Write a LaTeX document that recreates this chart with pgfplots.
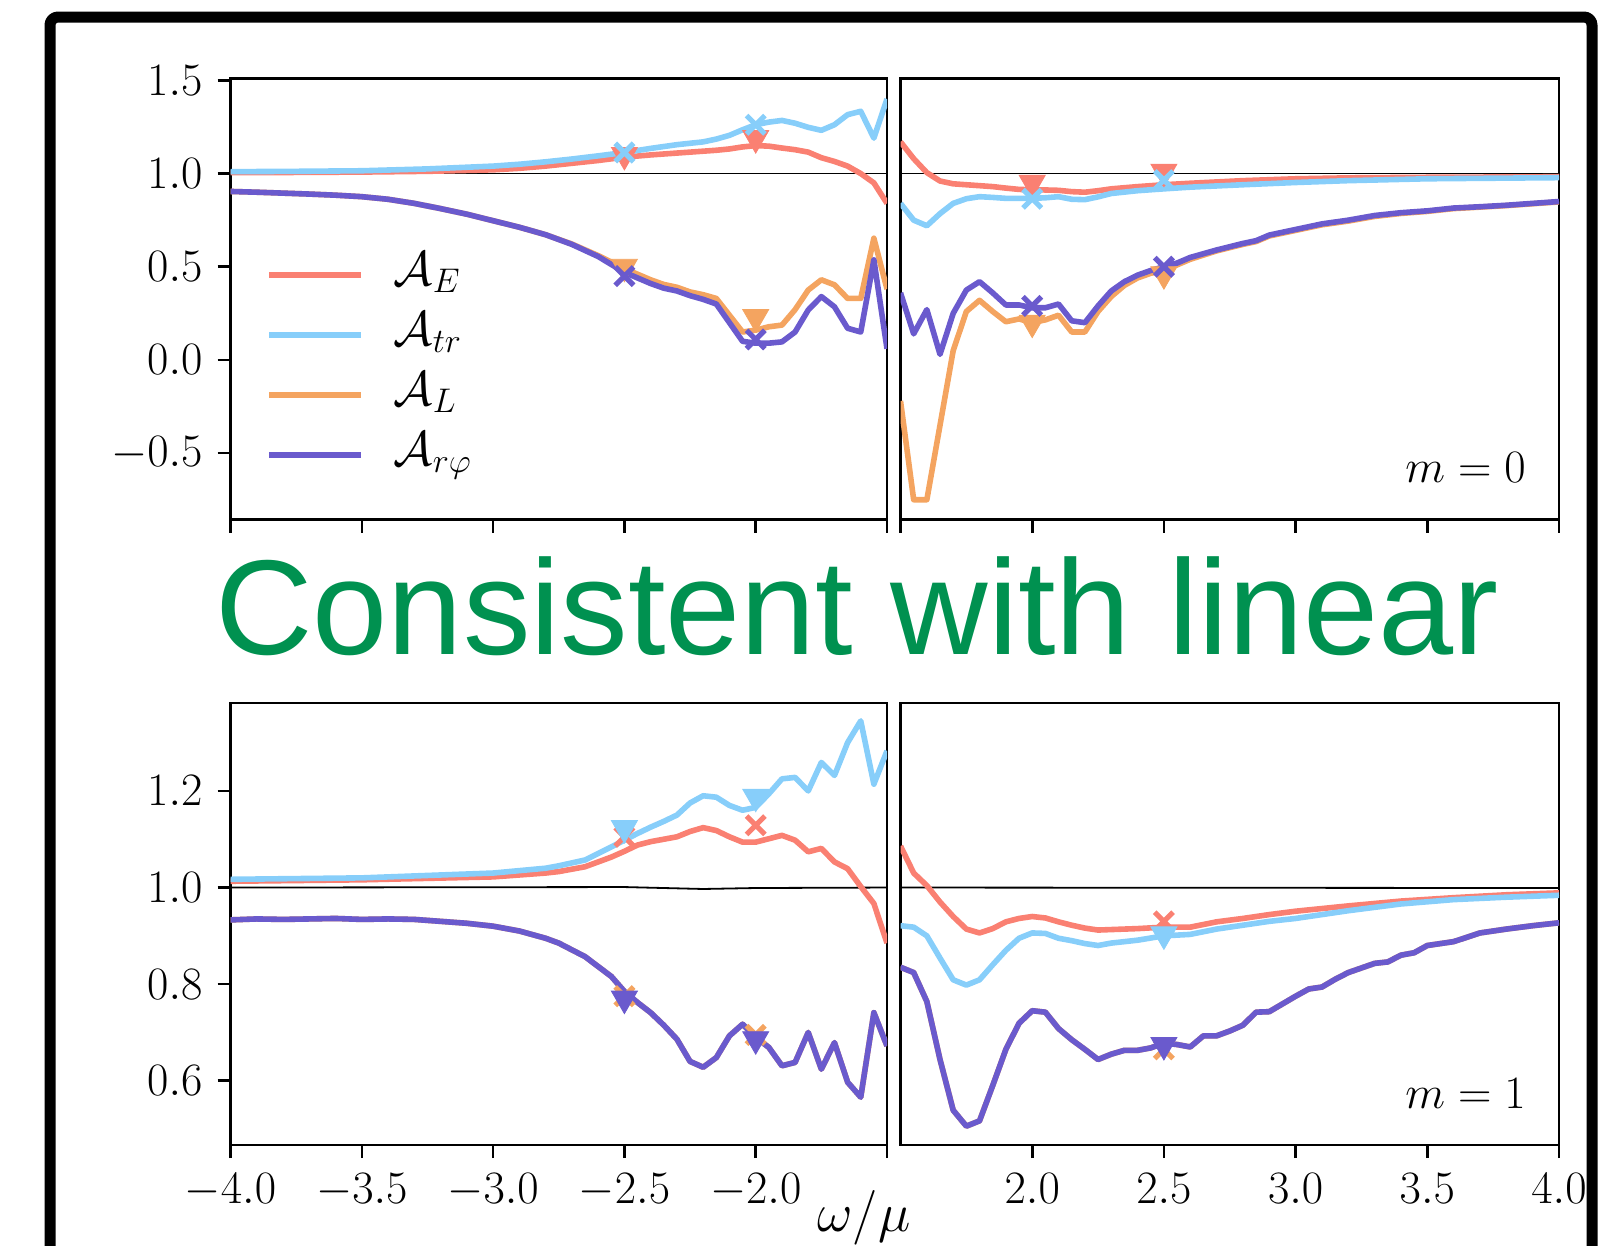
\RequirePackage{fix-cm}
\documentclass[border=0pt]{standalone}
\usepackage{pgfplots}
\pgfplotsset{compat=1.18}
\usepackage{fontspec}
\newfontfamily\slidefont{Liberation Sans}
\definecolor{cE}{RGB}{250,128,114}
\definecolor{cT}{RGB}{135,206,250}
\definecolor{cL}{RGB}{244,164,96}
\definecolor{cR}{RGB}{106,90,205}
\definecolor{cG}{RGB}{0,145,80}
\pgfplotsset{
  panel/.style={
    scale only axis,
    axis line style={line width=1.4bp},
    tick style={line width=1.3bp, black},
    major tick length=6.5bp,
    tick align=outside,
    xtick pos=left, ytick pos=left,
    ticklabel style={font=\fontsize{23.3pt}{26pt}\selectfont},
    yticklabel style={xshift=-4bp},
    xticklabel style={yshift=-4.5bp},
    clip=true,
  },
  ln/.style={line width=2.8bp, no marks, line join=round},
  mx/.style={only marks, mark=x, mark size=6.5bp, mark options={line width=2.6bp, solid}, forget plot},
  mv/.style={only marks, mark=triangle*, mark size=7.5bp, mark options={rotate=180, solid}, forget plot},
  refl/.style={black, line width=0.9bp, no marks, forget plot},
}
\begin{document}
\begin{tikzpicture}
\useasboundingbox (0bp,0bp) rectangle (801.5bp,-623bp);
% ---------- top left (m = 0) ----------
\begin{axis}[panel, at={(115.25bp,-39.25bp)}, anchor=north west,
  width=328.25bp, height=220.5bp,
  xmin=-4, xmax=-1.5, ymin=-0.856, ymax=1.51,
  xtick={-4,-3.5,-3,-2.5,-2,-1.5}, xticklabels={},
  ytick={-0.5,0,0.5,1,1.5}, yticklabels={$-0.5$,$0.0$,$0.5$,$1.0$,$1.5$},
  legend style={at={(axis description cs:0.054,0.60)}, anchor=north west, draw=none, fill=none,
    inner sep=0pt, row sep=10bp, column sep=15bp,
    nodes={inner sep=0pt, text height=15bp, text depth=5bp},
    font=\fontsize{24.5pt}{27pt}\selectfont},
  legend cell align=left,
  legend image code/.code={\draw[#1] (0bp,0bp) -- (46bp,0bp);},
]
\addplot[refl] coordinates {(-4,1) (-1.5,1)};
\addplot[ln, cE] coordinates {(-4.0,1.005) (-3.75,1.006) (-3.5,1.008) (-3.25,1.012) (-3.0,1.02) (-2.9,1.028) (-2.8,1.04) (-2.7,1.055) (-2.6,1.07) (-2.5,1.088) (-2.4,1.10) (-2.3,1.11) (-2.2,1.12) (-2.15,1.125) (-2.1,1.132) (-2.05,1.143) (-2.0,1.15) (-1.95,1.147) (-1.9,1.137) (-1.85,1.128) (-1.8,1.115) (-1.75,1.085) (-1.7,1.065) (-1.65,1.04) (-1.6,1.0) (-1.55,0.95) (-1.5,0.84)};
\addlegendentry{$\mathcal{A}_E$}
\addplot[ln, cT] coordinates {(-4.0,1.01) (-3.75,1.012) (-3.5,1.015) (-3.25,1.025) (-3.0,1.04) (-2.9,1.05) (-2.8,1.063) (-2.7,1.078) (-2.6,1.095) (-2.5,1.113) (-2.4,1.135) (-2.3,1.155) (-2.2,1.17) (-2.15,1.185) (-2.1,1.205) (-2.05,1.235) (-2.0,1.262) (-1.95,1.276) (-1.9,1.285) (-1.85,1.27) (-1.8,1.248) (-1.75,1.232) (-1.7,1.262) (-1.65,1.316) (-1.6,1.334) (-1.55,1.19) (-1.5,1.40)};
\addlegendentry{$\mathcal{A}_{tr}$}
\addplot[ln, cL] coordinates {(-4.0,0.904) (-3.9,0.9) (-3.8,0.895) (-3.7,0.89) (-3.6,0.884) (-3.5,0.876) (-3.4,0.862) (-3.3,0.84) (-3.2,0.812) (-3.1,0.782) (-3.0,0.747) (-2.9,0.712) (-2.8,0.672) (-2.7,0.622) (-2.6,0.56) (-2.5,0.49) (-2.45,0.46) (-2.4,0.43) (-2.35,0.405) (-2.3,0.39) (-2.25,0.365) (-2.2,0.35) (-2.15,0.33) (-2.1,0.24) (-2.05,0.15) (-2.0,0.16) (-1.95,0.178) (-1.9,0.187) (-1.85,0.27) (-1.8,0.375) (-1.75,0.43) (-1.7,0.403) (-1.65,0.33) (-1.6,0.33) (-1.55,0.653) (-1.5,0.38)};
\addlegendentry{$\mathcal{A}_L$}
\addplot[ln, cR] coordinates {(-4.0,0.904) (-3.9,0.9) (-3.8,0.895) (-3.7,0.89) (-3.6,0.884) (-3.5,0.876) (-3.4,0.862) (-3.3,0.84) (-3.2,0.812) (-3.1,0.782) (-3.0,0.747) (-2.9,0.712) (-2.8,0.672) (-2.7,0.62) (-2.6,0.555) (-2.5,0.47) (-2.45,0.44) (-2.4,0.41) (-2.35,0.385) (-2.3,0.37) (-2.25,0.345) (-2.2,0.325) (-2.15,0.30) (-2.1,0.20) (-2.05,0.10) (-2.0,0.09) (-1.95,0.09) (-1.9,0.097) (-1.85,0.15) (-1.8,0.268) (-1.75,0.34) (-1.7,0.285) (-1.65,0.17) (-1.6,0.15) (-1.55,0.537) (-1.5,0.06)};
\addlegendentry{$\mathcal{A}_{r\varphi}$}
\addplot[mv, cE] coordinates {(-2.5,1.10) (-2.0,1.19)};
\addplot[mx, cT] coordinates {(-2.5,1.113) (-2.0,1.262)};
\addplot[mv, cL] coordinates {(-2.5,0.50) (-2.0,0.23)};
\addplot[mx, cR] coordinates {(-2.5,0.45) (-2.0,0.11)};
\end{axis}
% ---------- top right (m = 0) ----------
\begin{axis}[panel, at={(450.25bp,-39.25bp)}, anchor=north west,
  width=329.25bp, height=220.5bp,
  xmin=1.5, xmax=4, ymin=-0.856, ymax=1.51,
  xtick={1.5,2,2.5,3,3.5,4}, xticklabels={},
  ytick=\empty,
]
\addplot[refl] coordinates {(1.5,1) (4,1)};
\addplot[ln, cE] coordinates {(1.5,1.17) (1.55,1.08) (1.6,1.005) (1.65,0.96) (1.7,0.945) (1.75,0.94) (1.8,0.935) (1.85,0.93) (1.9,0.922) (1.95,0.915) (2.0,0.913) (2.05,0.912) (2.1,0.91) (2.15,0.903) (2.2,0.90) (2.25,0.908) (2.3,0.918) (2.4,0.93) (2.5,0.94) (2.6,0.948) (2.8,0.962) (3.0,0.972) (3.2,0.977) (3.5,0.98) (4.0,0.983)};
\addplot[ln, cT] coordinates {(1.5,0.84) (1.55,0.75) (1.6,0.72) (1.65,0.785) (1.7,0.84) (1.75,0.865) (1.8,0.876) (1.85,0.872) (1.9,0.867) (1.95,0.867) (2.0,0.867) (2.05,0.87) (2.1,0.876) (2.15,0.862) (2.2,0.86) (2.25,0.875) (2.3,0.893) (2.4,0.908) (2.5,0.918) (2.6,0.927) (2.8,0.94) (3.0,0.952) (3.2,0.962) (3.5,0.972) (4.0,0.978)};
\addplot[ln, cL] coordinates {(1.5,-0.22) (1.55,-0.75) (1.6,-0.75) (1.65,-0.35) (1.7,0.05) (1.75,0.26) (1.8,0.32) (1.85,0.26) (1.9,0.205) (1.95,0.22) (2.0,0.20) (2.05,0.215) (2.1,0.24) (2.15,0.15) (2.2,0.15) (2.25,0.26) (2.3,0.34) (2.35,0.40) (2.4,0.44) (2.45,0.465) (2.5,0.48) (2.55,0.51) (2.6,0.54) (2.7,0.585) (2.8,0.62) (2.85,0.635) (2.9,0.665) (3.0,0.695) (3.1,0.725) (3.2,0.745) (3.3,0.77) (3.4,0.786) (3.5,0.797) (3.6,0.812) (3.7,0.82) (3.8,0.828) (3.9,0.838) (4.0,0.848)};
\addplot[ln, cR] coordinates {(1.5,0.36) (1.55,0.14) (1.6,0.27) (1.65,0.03) (1.7,0.25) (1.75,0.375) (1.8,0.42) (1.85,0.36) (1.9,0.295) (1.95,0.295) (2.0,0.28) (2.05,0.28) (2.1,0.30) (2.15,0.21) (2.2,0.20) (2.25,0.29) (2.3,0.37) (2.35,0.42) (2.4,0.455) (2.45,0.48) (2.5,0.50) (2.55,0.52) (2.6,0.55) (2.7,0.59) (2.8,0.625) (2.85,0.64) (2.9,0.67) (3.0,0.70) (3.1,0.73) (3.2,0.75) (3.3,0.775) (3.4,0.79) (3.5,0.80) (3.6,0.815) (3.7,0.822) (3.8,0.83) (3.9,0.84) (4.0,0.85)};
\addplot[mv, cE] coordinates {(2.0,0.95) (2.5,1.01)};
\addplot[mx, cT] coordinates {(2.0,0.865) (2.5,0.965)};
\addplot[mv, cL] coordinates {(2.0,0.20) (2.5,0.46)};
\addplot[mx, cR] coordinates {(2.0,0.29) (2.5,0.50)};
\end{axis}
% ---------- bottom left (m = 1) ----------
\begin{axis}[panel, at={(115.25bp,-351.5bp)}, anchor=north west,
  width=328.25bp, height=221bp,
  xmin=-4, xmax=-1.5, ymin=0.467, ymax=1.382,
  xtick={-4,-3.5,-3,-2.5,-2,-1.5}, xticklabels={$-4.0$,$-3.5$,$-3.0$,$-2.5$,$-2.0$,{}},
  ytick={0.6,0.8,1.0,1.2}, yticklabels={$0.6$,$0.8$,$1.0$,$1.2$},
]
\addplot[refl] coordinates {(-4,1) (-2.5,1.001) (-2.2,0.997) (-2.0,0.999) (-1.5,1)};
\addplot[ln, cE] coordinates {(-4.0,1.013) (-3.5,1.016) (-3.0,1.022) (-2.9,1.026) (-2.8,1.03) (-2.75,1.033) (-2.65,1.043) (-2.55,1.063) (-2.5,1.075) (-2.45,1.088) (-2.4,1.095) (-2.35,1.1) (-2.3,1.105) (-2.25,1.116) (-2.2,1.124) (-2.15,1.118) (-2.1,1.105) (-2.05,1.094) (-2.0,1.094) (-1.95,1.101) (-1.9,1.108) (-1.85,1.098) (-1.8,1.074) (-1.75,1.081) (-1.7,1.053) (-1.65,1.039) (-1.6,1.002) (-1.55,0.967) (-1.5,0.885)};
\addplot[ln, cT] coordinates {(-4.0,1.017) (-3.5,1.02) (-3.0,1.03) (-2.9,1.035) (-2.8,1.04) (-2.75,1.045) (-2.65,1.057) (-2.55,1.084) (-2.5,1.098) (-2.45,1.112) (-2.4,1.125) (-2.35,1.137) (-2.3,1.15) (-2.25,1.175) (-2.2,1.19) (-2.15,1.187) (-2.1,1.17) (-2.05,1.16) (-2.0,1.166) (-1.95,1.194) (-1.9,1.225) (-1.85,1.228) (-1.8,1.20) (-1.75,1.259) (-1.7,1.232) (-1.65,1.30) (-1.6,1.345) (-1.55,1.214) (-1.5,1.283)};
\addplot[ln, cL] coordinates {(-4.0,0.933) (-3.9,0.935) (-3.8,0.934) (-3.7,0.935) (-3.6,0.936) (-3.5,0.934) (-3.4,0.935) (-3.3,0.934) (-3.2,0.93) (-3.1,0.926) (-3.0,0.92) (-2.9,0.91) (-2.8,0.895) (-2.75,0.885) (-2.65,0.857) (-2.55,0.816) (-2.5,0.785) (-2.45,0.762) (-2.4,0.741) (-2.35,0.715) (-2.3,0.686) (-2.25,0.64) (-2.2,0.628) (-2.15,0.648) (-2.1,0.693) (-2.05,0.717) (-2.0,0.69) (-1.95,0.669) (-1.9,0.631) (-1.85,0.638) (-1.8,0.70) (-1.75,0.624) (-1.7,0.679) (-1.65,0.597) (-1.6,0.566) (-1.55,0.741) (-1.5,0.672)};
\addplot[ln, cR] coordinates {(-4.0,0.933) (-3.9,0.935) (-3.8,0.934) (-3.7,0.935) (-3.6,0.936) (-3.5,0.934) (-3.4,0.935) (-3.3,0.934) (-3.2,0.93) (-3.1,0.926) (-3.0,0.92) (-2.9,0.91) (-2.8,0.895) (-2.75,0.885) (-2.65,0.857) (-2.55,0.816) (-2.5,0.785) (-2.45,0.762) (-2.4,0.741) (-2.35,0.715) (-2.3,0.686) (-2.25,0.64) (-2.2,0.628) (-2.15,0.648) (-2.1,0.693) (-2.05,0.717) (-2.0,0.69) (-1.95,0.669) (-1.9,0.631) (-1.85,0.638) (-1.8,0.70) (-1.75,0.624) (-1.7,0.679) (-1.65,0.597) (-1.6,0.566) (-1.55,0.741) (-1.5,0.672)};
\addplot[mx, cE] coordinates {(-2.5,1.105) (-2.0,1.129)};
\addplot[mv, cT] coordinates {(-2.5,1.123) (-2.0,1.188)};
\addplot[mx, cL] coordinates {(-2.5,0.775) (-2.0,0.695)};
\addplot[mv, cR] coordinates {(-2.5,0.77) (-2.0,0.686)};
\end{axis}
% ---------- bottom right (m = 1) ----------
\begin{axis}[panel, at={(450.25bp,-351.5bp)}, anchor=north west,
  width=329.25bp, height=221bp,
  xmin=1.5, xmax=4, ymin=0.467, ymax=1.382,
  xtick={2,2.5,3,3.5,4}, xticklabels={$2.0$,$2.5$,$3.0$,$3.5$,$4.0$},
  ytick=\empty,
]
\addplot[refl] coordinates {(1.5,1) (4,0.999)};
\addplot[ln, cE] coordinates {(1.5,1.086) (1.55,1.03) (1.6,1.004) (1.65,0.97) (1.7,0.94) (1.75,0.914) (1.8,0.906) (1.85,0.915) (1.9,0.929) (1.95,0.936) (2.0,0.94) (2.05,0.937) (2.1,0.929) (2.15,0.922) (2.2,0.916) (2.25,0.912) (2.3,0.913) (2.4,0.915) (2.5,0.918) (2.6,0.918) (2.7,0.929) (2.8,0.936) (2.9,0.944) (3.0,0.951) (3.2,0.962) (3.4,0.972) (3.6,0.979) (3.8,0.985) (4.0,0.989)};
\addplot[ln, cT] coordinates {(1.5,0.921) (1.55,0.918) (1.6,0.90) (1.65,0.854) (1.7,0.809) (1.75,0.798) (1.8,0.809) (1.85,0.84) (1.9,0.87) (1.95,0.895) (2.0,0.906) (2.05,0.905) (2.1,0.895) (2.15,0.89) (2.2,0.884) (2.25,0.88) (2.3,0.885) (2.4,0.891) (2.5,0.90) (2.6,0.903) (2.7,0.914) (2.8,0.922) (2.9,0.93) (3.0,0.936) (3.2,0.952) (3.4,0.966) (3.6,0.975) (3.8,0.98) (4.0,0.984)};
\addplot[ln, cL] coordinates {(1.5,0.835) (1.55,0.824) (1.6,0.764) (1.65,0.644) (1.7,0.539) (1.75,0.506) (1.8,0.517) (1.85,0.59) (1.9,0.665) (1.95,0.719) (2.0,0.745) (2.05,0.742) (2.1,0.708) (2.15,0.685) (2.2,0.665) (2.25,0.644) (2.3,0.655) (2.35,0.663) (2.4,0.663) (2.45,0.668) (2.5,0.678) (2.55,0.675) (2.6,0.67) (2.65,0.693) (2.7,0.693) (2.75,0.703) (2.8,0.715) (2.85,0.742) (2.9,0.743) (3.0,0.775) (3.05,0.79) (3.1,0.794) (3.15,0.81) (3.2,0.824) (3.3,0.843) (3.35,0.846) (3.4,0.86) (3.45,0.865) (3.5,0.88) (3.6,0.888) (3.7,0.906) (3.8,0.914) (3.9,0.921) (4.0,0.927)};
\addplot[ln, cR] coordinates {(1.5,0.835) (1.55,0.824) (1.6,0.764) (1.65,0.644) (1.7,0.539) (1.75,0.506) (1.8,0.517) (1.85,0.59) (1.9,0.665) (1.95,0.719) (2.0,0.745) (2.05,0.742) (2.1,0.708) (2.15,0.685) (2.2,0.665) (2.25,0.644) (2.3,0.655) (2.35,0.663) (2.4,0.663) (2.45,0.668) (2.5,0.678) (2.55,0.675) (2.6,0.67) (2.65,0.693) (2.7,0.693) (2.75,0.703) (2.8,0.715) (2.85,0.742) (2.9,0.743) (3.0,0.775) (3.05,0.79) (3.1,0.794) (3.15,0.81) (3.2,0.824) (3.3,0.843) (3.35,0.846) (3.4,0.86) (3.45,0.865) (3.5,0.88) (3.6,0.888) (3.7,0.906) (3.8,0.914) (3.9,0.921) (4.0,0.927)};
\addplot[mx, cE] coordinates {(2.5,0.93)};
\addplot[mv, cT] coordinates {(2.5,0.903)};
\addplot[mx, cL] coordinates {(2.5,0.665)};
\addplot[mv, cR] coordinates {(2.5,0.674)};
\end{axis}
% ---------- labels and slide decoration ----------
\node[anchor=east, font=\fontsize{23.3pt}{26pt}\selectfont, inner sep=0pt] at (763bp,-234bp) {$m=0$};
\node[anchor=east, font=\fontsize{23.3pt}{26pt}\selectfont, inner sep=0pt] at (763bp,-547bp) {$m=1$};
\node[font=\fontsize{27.5pt}{31pt}\selectfont, inner sep=0pt] at (432bp,-609bp) {$\omega/\mu$};
\node[anchor=base, text=cG, font=\slidefont\fontsize{67.5bp}{72bp}\selectfont, inner sep=0pt] at (428.5bp,-327bp) {Consistent with linear};
\draw[line width=5.5bp, line join=round, rounded corners=4bp] (25bp,-640bp) -- (25bp,-8.5bp) -- (796bp,-8.5bp) -- (796bp,-640bp);
\end{tikzpicture}
\end{document}
